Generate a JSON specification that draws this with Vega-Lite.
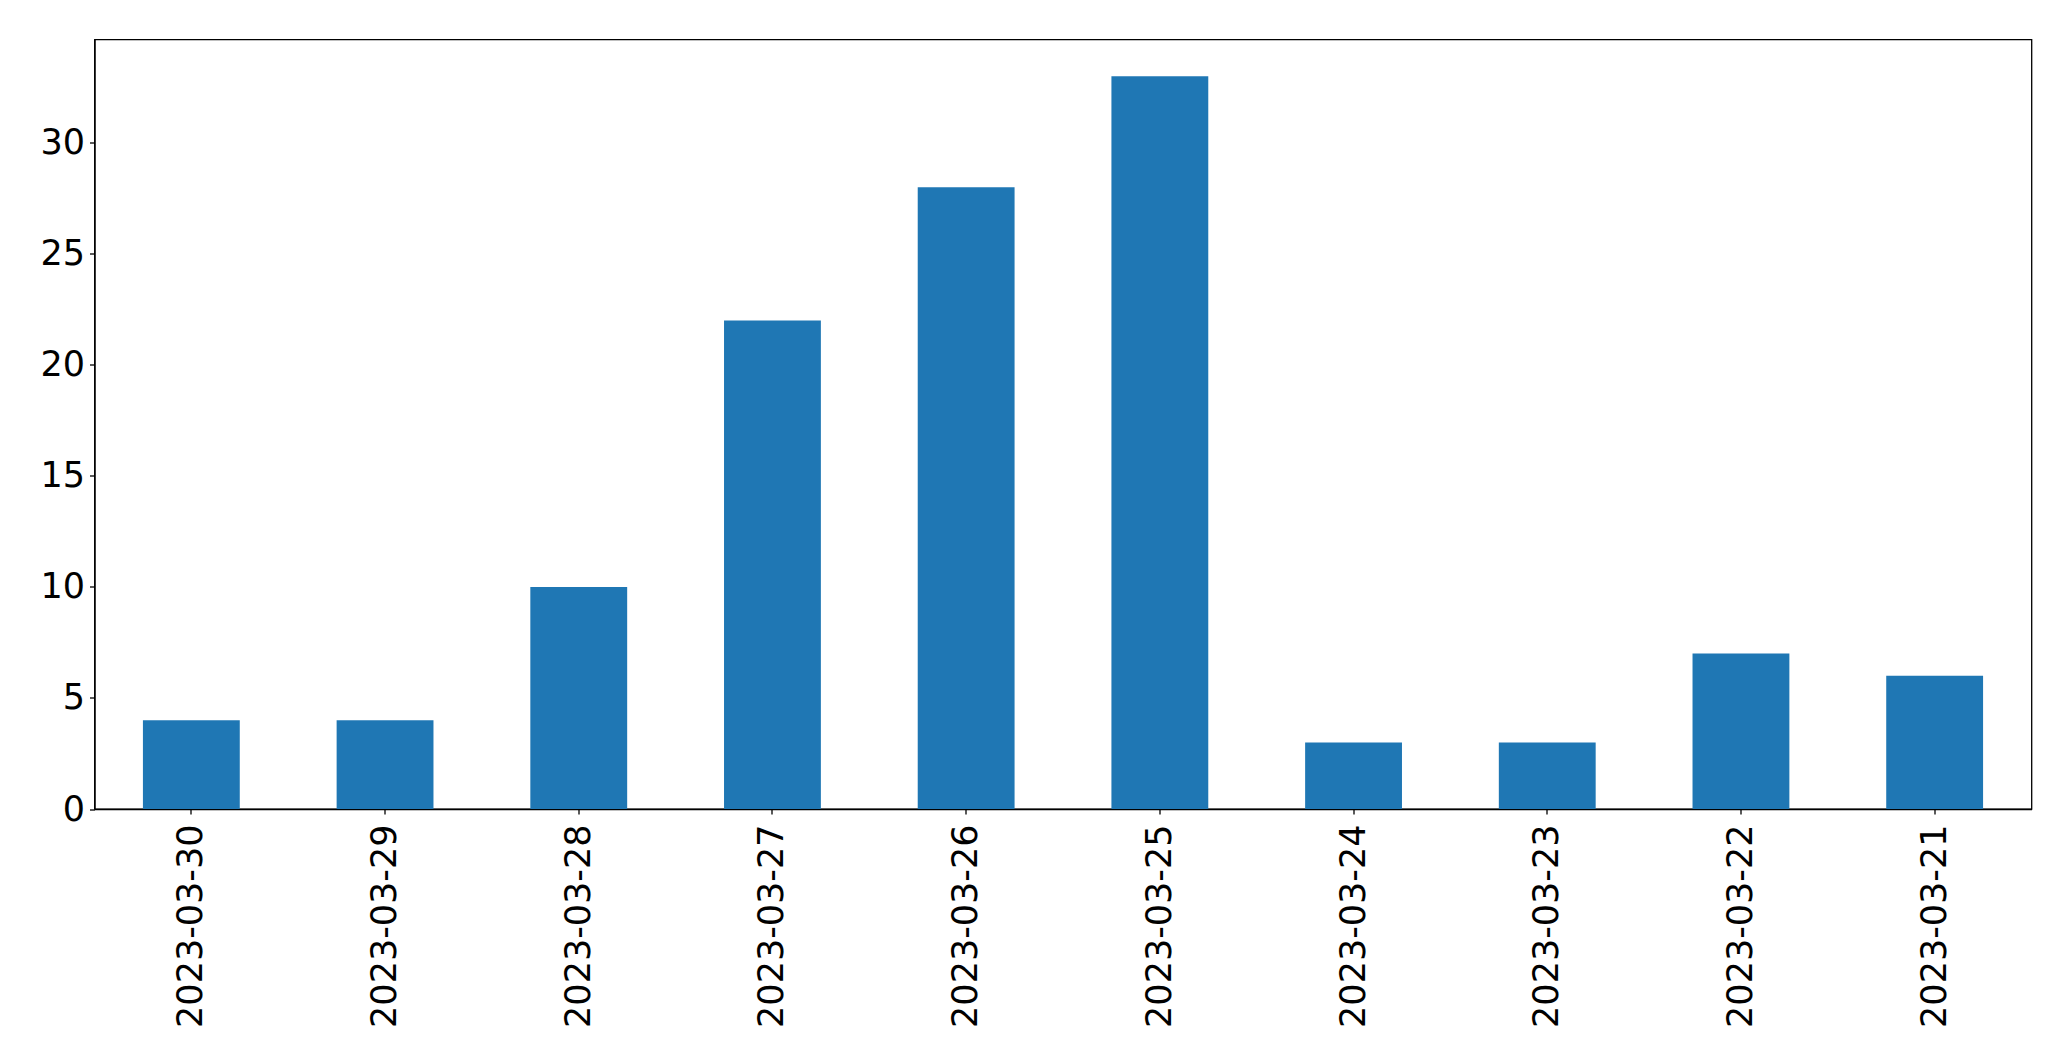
{
  "$schema": "https://vega.github.io/schema/vega-lite/v6.json",
  "width": 1937,
  "height": 769.5,
  "autosize": "none",
  "padding": {"left": 94.5, "top": 39.5, "right": 39.5, "bottom": 252},
  "background": "#ffffff",
  "data": {
    "values": [
      {"date": "2023-03-30", "count": 4},
      {"date": "2023-03-29", "count": 4},
      {"date": "2023-03-28", "count": 10},
      {"date": "2023-03-27", "count": 22},
      {"date": "2023-03-26", "count": 28},
      {"date": "2023-03-25", "count": 33},
      {"date": "2023-03-24", "count": 3},
      {"date": "2023-03-23", "count": 3},
      {"date": "2023-03-22", "count": 7},
      {"date": "2023-03-21", "count": 6}
    ]
  },
  "mark": {"type": "bar", "color": "#1f77b4"},
  "encoding": {
    "x": {
      "field": "date",
      "type": "nominal",
      "sort": null,
      "scale": {"paddingInner": 0.5, "paddingOuter": 0.25},
      "axis": {
        "title": null,
        "labelAngle": 270,
        "labelAlign": "right",
        "labelBaseline": "middle",
        "labelPadding": 10,
        "labelLimit": 0,
        "tickSize": 5,
        "grid": false
      }
    },
    "y": {
      "field": "count",
      "type": "quantitative",
      "scale": {"domain": [0, 34.65], "nice": false, "zero": true},
      "axis": {
        "title": null,
        "values": [0, 5, 10, 15, 20, 25, 30],
        "tickSize": 5,
        "labelPadding": 5,
        "grid": false
      }
    }
  },
  "config": {
    "view": {"stroke": "#000000", "strokeWidth": 1.3},
    "axis": {
      "labelFont": "DejaVu Sans",
      "labelFontSize": 35,
      "labelColor": "#000000",
      "domainColor": "#000000",
      "domainWidth": 1.3,
      "tickColor": "#000000",
      "tickWidth": 1.3,
      "labelFlush": false,
      "labelOverlap": false,
      "labelLimit": 0
    }
  }
}
